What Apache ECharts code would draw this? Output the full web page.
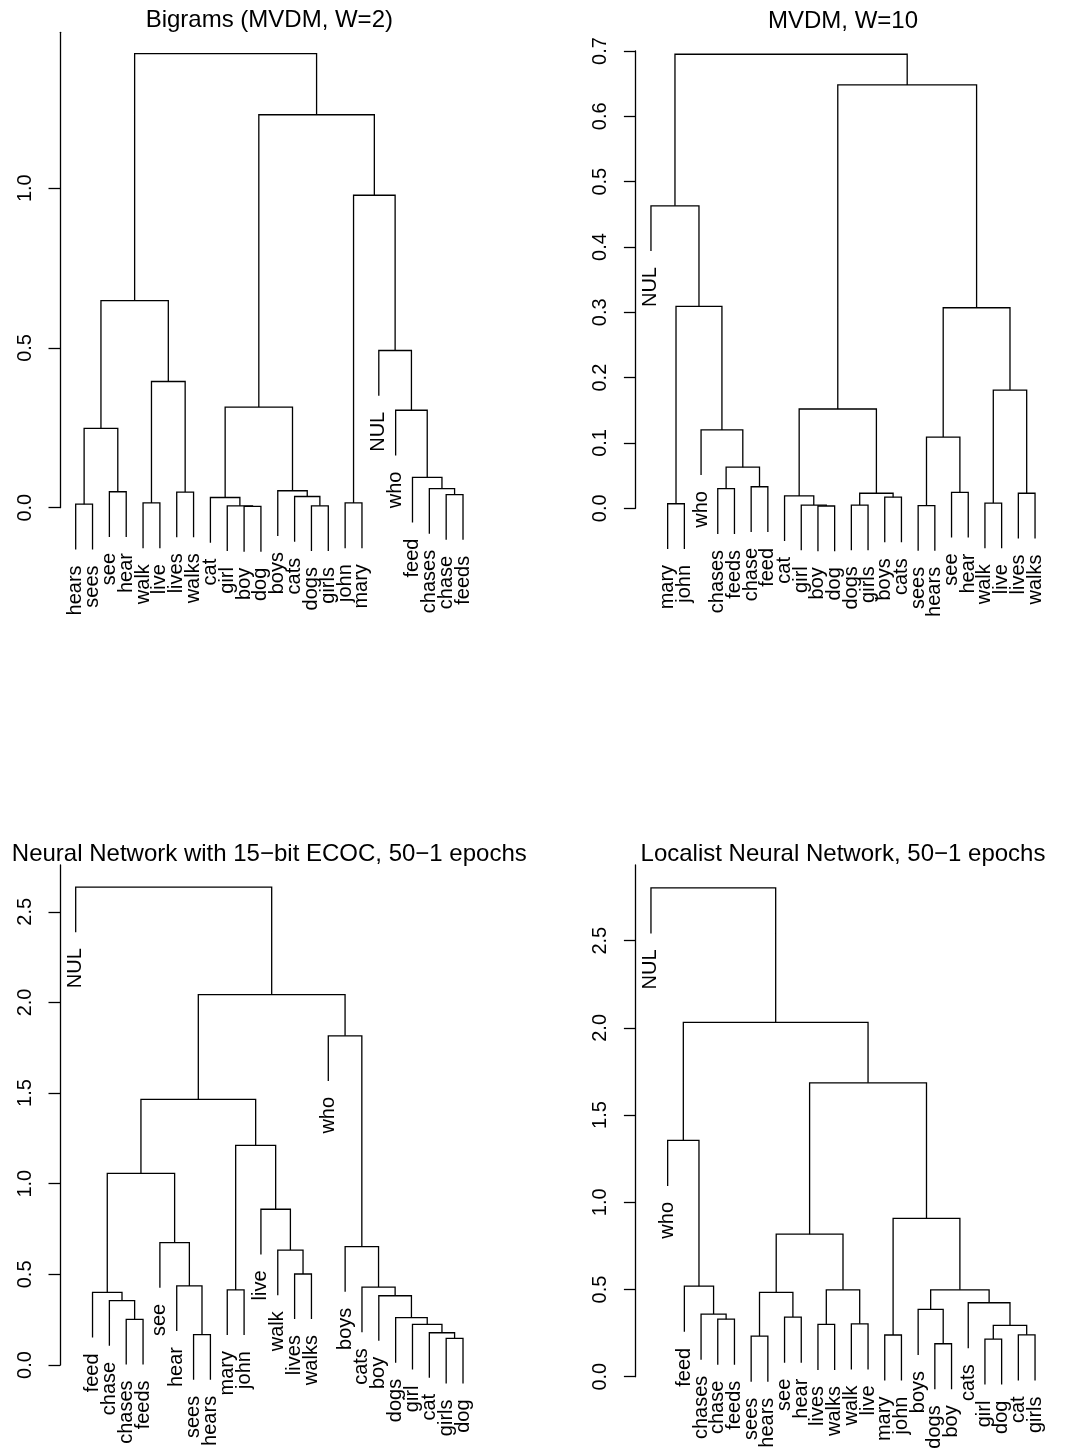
<!DOCTYPE html>
<html><head><meta charset="utf-8">
<script src="https://cdn.jsdelivr.net/npm/echarts@6/dist/echarts.min.js"></script>
<style>html,body{margin:0;padding:0;background:#fff}#c{width:1065px;height:1452px}</style>
</head><body><div id="c"></div><script>
// ---------- DATA ----------
// Each internal node: [left, right, mergeHeight]; each leaf: its label.
const titles = [
  "Bigrams (MVDM, W=2)",
  "MVDM, W=10",
  "Neural Network with 15\u2212bit ECOC, 50\u22121 epochs",
  "Localist Neural Network, 50\u22121 epochs"
];

const bigramTree = [
  [
    [["hears", "sees", 0.011], ["see", "hear", 0.050], 0.248],
    [["walk", "live", 0.015], ["lives", "walks", 0.049], 0.395],
    0.648],
  [
    [["cat", ["girl", ["boy", "dog", 0.004], 0.006], 0.032],
     ["boys", ["cats", ["dogs", "girls", 0.006], 0.035], 0.053], 0.315],
    [["john", "mary", 0.015],
     ["NUL", ["who", ["feed", ["chases", ["chase", "feeds", 0.041], 0.060], 0.095], 0.305], 0.492], 0.978],
    1.230],
  1.421];

const mvdm10Tree = [
  ["NUL",
   [["mary", "john", 0.007],
    ["who", [["chases", "feeds", 0.030], ["chase", "feed", 0.033], 0.063], 0.120], 0.309],
   0.463],
  [
    [["cat", ["girl", ["boy", "dog", 0.0035], 0.005], 0.019],
     [["dogs", "girls", 0.005], ["boys", "cats", 0.017], 0.023], 0.152],
    [[["sees", "hears", 0.004], ["see", "hear", 0.0245], 0.109],
     [["walk", "live", 0.008], ["lives", "walks", 0.023], 0.181], 0.307],
    0.648],
  0.695];

const ecocTree = [
  "NUL",
  [
    [
      [["feed", ["chase", ["chases", "feeds", 0.252], 0.355], 0.401],
       ["see", ["hear", ["sees", "hears", 0.167], 0.436], 0.675], 1.057],
      [["mary", "john", 0.414],
       ["live", ["walk", ["lives", "walks", 0.502], 0.634], 0.859], 1.211],
      1.465],
    ["who",
     ["boys", ["cats", ["boy", ["dogs", ["girl", ["cat", ["girls", "dog", 0.147], 0.178], 0.224], 0.261], 0.382], 0.430], 0.653],
     1.816],
    2.043],
  2.636];

const localistTree = [
  "NUL",
  [
    ["who", ["feed", ["chases", ["chase", "feeds", 0.330], 0.359], 0.519], 1.355],
    [
      [[["sees", "hears", 0.233], ["see", "hear", 0.342], 0.483],
       [["lives", "walks", 0.300], ["walk", "live", 0.303], 0.498], 0.817],
      [["mary", "john", 0.239],
       [["boys", ["dogs", "boy", 0.189], 0.386],
        ["cats", [["girl", "dog", 0.216], ["cat", "girls", 0.240], 0.294], 0.424], 0.498], 0.908],
      1.685],
    2.032],
  2.803];

const ticks1 = [0, 0.5, 1.0];
const ticks2 = [0, 0.1, 0.2, 0.3, 0.4, 0.5, 0.6, 0.7];
const ticks3 = [0, 0.5, 1.0, 1.5, 2.0, 2.5];
const ticks4 = [0, 0.5, 1.0, 1.5, 2.0, 2.5];

// ---------- LAYOUT (R plot.hclust style) ----------
function layoutTree(tree) {
  const heights = [];
  (function collect(n) { if (Array.isArray(n)) { heights.push(n[2]); collect(n[0]); collect(n[1]); } })(tree);
  const hang = 0.1 * (Math.max(...heights) - Math.min(...heights));
  const leaves = [], links = [];
  let count = 0;
  function walk(n) {
    if (!Array.isArray(n)) { count++; return { x: count, leaf: n }; }
    const a = walk(n[0]), b = walk(n[1]), h = n[2];
    const ya = a.leaf !== undefined ? h - hang : a.y;
    const yb = b.leaf !== undefined ? h - hang : b.y;
    if (a.leaf !== undefined) leaves.push([a.x, ya, a.leaf]);
    if (b.leaf !== undefined) leaves.push([b.x, yb, b.leaf]);
    links.push([a.x, ya, b.x, yb, h]);
    return { x: (a.x + b.x) / 2, y: h };
  }
  walk(tree);
  return { leaves, links, n: count };
}

const FONT = "'Liberation Sans', Arial, Helvetica, sans-serif";
const LW = 1.3;

const panels = [
  { title: titles[0], tree: bigramTree, ticks: ticks1, interval: 0.5,
    grid: { left: 60.2, top: 32.3, width: 418.3, height: 475.4 }, ymax: 1.488, tx: 269.3, ty: 20 },
  { title: titles[1], tree: mvdm10Tree, ticks: ticks2, interval: 0.1,
    grid: { left: 635.6, top: 51, width: 414.8, height: 457.3 }, ymax: 0.7, tx: 843, ty: 21 },
  { title: titles[2], tree: ecocTree, ticks: ticks3, interval: 0.5,
    grid: { left: 60.2, top: 865, width: 418.3, height: 500 }, ymax: 2.758, tx: 269.3, ty: 854 },
  { title: titles[3], tree: localistTree, ticks: ticks4, interval: 0.5,
    grid: { left: 635.6, top: 865, width: 414.8, height: 511.7 }, ymax: 2.934, tx: 843, ty: 854 }
];

const grids = [], xAxes = [], yAxes = [], series = [], graphics = [];
panels.forEach((p, i) => {
  const L = layoutTree(p.tree);
  grids.push(Object.assign({ containLabel: false }, p.grid));
  xAxes.push({ type: 'value', gridIndex: i, min: 1 - 0.04 * (L.n - 1), max: L.n + 0.04 * (L.n - 1), show: false });
  yAxes.push({
    type: 'value', gridIndex: i, min: 0, max: p.ymax, interval: p.interval,
    axisLine: { show: true, onZero: false, lineStyle: { color: '#000', width: LW } },
    axisTick: { show: true, length: 11.7, customValues: p.ticks, lineStyle: { color: '#000', width: LW } },
    axisLabel: { show: true, customValues: p.ticks, rotate: 90, margin: 25, fontSize: 20, color: '#000', fontFamily: FONT,
      formatter: v => v.toFixed(1) },
    splitLine: { show: false }
  });
  series.push({
    type: 'custom', xAxisIndex: i, yAxisIndex: i, clip: false, silent: true,
    encode: { x: [0, 2], y: [1, 4] },
    data: L.links,
    renderItem: (params, api) => {
      const x1 = api.value(0), y1 = api.value(1), x2 = api.value(2), y2 = api.value(3), h = api.value(4);
      return { type: 'polyline',
        shape: { points: [api.coord([x1, y1]), api.coord([x1, h]), api.coord([x2, h]), api.coord([x2, y2])] },
        style: { stroke: '#000', fill: null, lineWidth: LW } };
    }
  });
  series.push({
    type: 'custom', xAxisIndex: i, yAxisIndex: i, clip: false, silent: true,
    encode: { x: 0, y: 1 },
    data: L.leaves.map(d => [d[0], d[1]]),
    renderItem: (params, api) => {
      const pt = api.coord([api.value(0), api.value(1)]);
      return { type: 'text', x: pt[0], y: pt[1] + 16, rotation: Math.PI / 2,
        style: { text: L.leaves[params.dataIndex][2], align: 'right', verticalAlign: 'middle',
          font: '20px ' + FONT, fill: '#000' } };
    }
  });
  graphics.push({ type: 'text', x: p.tx, y: p.ty, silent: true,
    style: { text: p.title, font: '24px ' + FONT, fill: '#000', align: 'center', verticalAlign: 'middle',
      textAlign: 'center', textVerticalAlign: 'middle' } });
});

const chart = echarts.init(document.getElementById('c'), null, { renderer: 'canvas' });
chart.setOption({
  backgroundColor: '#fff', animation: false,
  grid: grids, xAxis: xAxes, yAxis: yAxes, series: series, graphic: graphics
});
</script></body></html>
